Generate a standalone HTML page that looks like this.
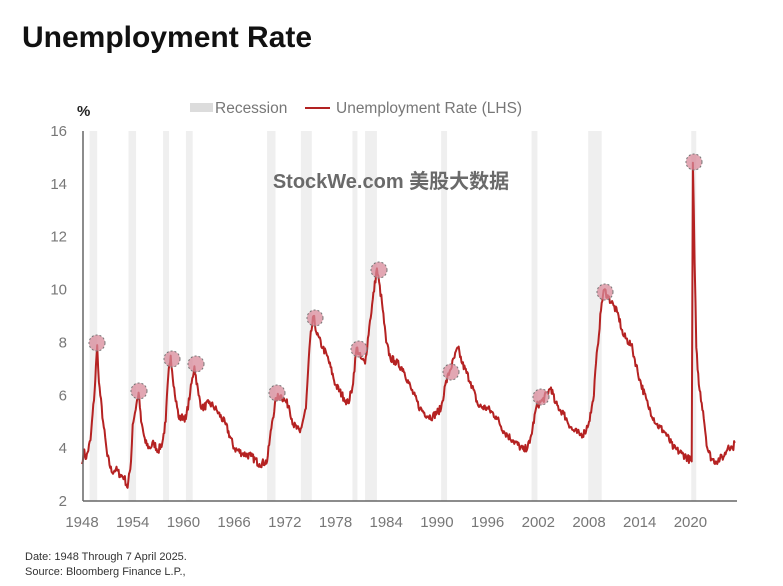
<!DOCTYPE html>
<html><head><meta charset="utf-8"><style>
html,body{margin:0;padding:0;background:#fff;width:783px;height:586px;overflow:hidden}
svg{display:block}
</style></head><body>
<svg id="s" width="783" height="586" xmlns="http://www.w3.org/2000/svg" font-family="Liberation Sans, sans-serif">
<text x="22" y="47" font-size="30" font-weight="bold" fill="#111">Unemployment Rate</text>
<g id="rec" fill="#efefef"></g>
<text x="77" y="116" font-size="15" font-weight="bold" fill="#222">%</text>
<rect x="190" y="103" width="23" height="9" fill="#dcdcdc"/>
<text x="215" y="113" font-size="15.5" fill="#777">Recession</text>
<line x1="305" y1="108" x2="330" y2="108" stroke="#b22222" stroke-width="2"/>
<text x="336" y="113" font-size="15.5" fill="#777">Unemployment Rate (LHS)</text>
<g id="yt" font-size="15" fill="#777" text-anchor="end"></g>
<g id="xt" font-size="15" fill="#777" text-anchor="middle"></g>
<path id="ln" fill="none" stroke="#b52222" stroke-width="2" stroke-linejoin="round"/>
<g id="mk" fill="#d88a9a" fill-opacity="0.75" stroke="#777" stroke-dasharray="2,2" stroke-width="1"></g>
<line x1="83" y1="131" x2="83" y2="501" stroke="#666" stroke-width="1.5"/>
<line x1="83" y1="501" x2="737" y2="501" stroke="#666" stroke-width="1.5"/>
<text x="391" y="188" font-size="20" font-weight="bold" fill="#6a6a6a" text-anchor="middle" font-family="Liberation Sans, Noto Sans CJK SC, sans-serif">StockWe.com 美股大数据</text>
<text x="25" y="560" font-size="11" fill="#333">Date: 1948 Through 7 April 2025.</text>
<text x="25" y="575" font-size="11" fill="#333">Source: Bloomberg Finance L.P.,</text>
</svg>
<script>
var X=function(t){return 82+(t-1948)*8.45},Y=function(v){return 501-(v-2)*26.43};
var ns="http://www.w3.org/2000/svg";
function el(p,n,a,t){var e=document.createElementNS(ns,n);for(var k in a)e.setAttribute(k,a[k]);if(t)e.textContent=t;document.getElementById(p).appendChild(e);}
[[1948.9,1949.8],[1953.5,1954.4],[1957.6,1958.3],[1960.3,1961.1],[1969.9,1970.9],[1973.9,1975.2],[1980,1980.5],[1981.5,1982.9],[1990.5,1991.2],[2001.2,2001.9],[2007.9,2009.5],[2020.1,2020.4]].forEach(function(r){el("rec","rect",{x:X(r[0]),y:131,width:Math.max(5,X(r[1])-X(r[0])),height:370});});
for(var v=2;v<=16;v+=2)el("yt","text",{x:67,y:Y(v)+5},""+v);
for(var y=1948;y<=2020;y+=6)el("xt","text",{x:X(y),y:527},""+y);
var d=[[1948,3.4],[1948.2,3.9],[1948.5,3.6],[1949,4.3],[1949.5,6.2],[1949.8,7.9],[1950,6.5],[1950.5,5.0],[1951,3.7],[1951.5,3.1],[1952,3.2],[1952.5,3.0],[1953,2.9],[1953.4,2.5],[1953.8,3.5],[1954,4.9],[1954.7,6.1],[1955,5.0],[1955.5,4.2],[1956,4.0],[1956.5,4.2],[1957,3.9],[1957.5,4.2],[1957.9,5.0],[1958.2,6.7],[1958.5,7.5],[1959,6.0],[1959.5,5.1],[1960,5.2],[1960.3,5.1],[1960.8,6.1],[1961.3,7.1],[1961.8,6.0],[1962.2,5.5],[1963,5.7],[1963.5,5.6],[1964,5.4],[1965,4.9],[1966,4.0],[1967,3.8],[1968,3.7],[1969,3.4],[1969.9,3.5],[1970.5,5.0],[1971,5.9],[1971.5,6.0],[1972,5.8],[1972.5,5.6],[1973,4.9],[1973.8,4.6],[1974.5,5.5],[1975,8.1],[1975.4,9.0],[1975.8,8.3],[1976.5,7.8],[1977,7.5],[1978,6.4],[1979,5.9],[1979.5,5.7],[1980,6.3],[1980.5,7.8],[1981,7.4],[1981.5,7.2],[1982,8.6],[1982.9,10.8],[1983.5,9.5],[1984,8.0],[1984.5,7.4],[1985,7.3],[1986,7.0],[1987,6.2],[1988,5.5],[1989,5.2],[1989.5,5.2],[1990.5,5.5],[1991,6.4],[1991.5,6.9],[1992.5,7.8],[1993,7.2],[1994,6.5],[1994.9,5.6],[1996,5.5],[1997,5.2],[1998,4.6],[1999,4.3],[2000.3,3.9],[2001,4.2],[2001.8,5.6],[2002.5,5.8],[2003.5,6.3],[2004,5.7],[2005,5.3],[2006,4.7],[2007,4.5],[2007.5,4.6],[2008,5.0],[2008.5,5.8],[2009,7.8],[2009.5,9.5],[2009.8,10.0],[2010.3,9.7],[2010.9,9.4],[2011.5,9.0],[2012,8.3],[2013,7.9],[2014,6.6],[2015,5.6],[2016,4.9],[2017,4.6],[2018,4.0],[2019,3.8],[2020.15,3.5],[2020.3,14.8],[2020.5,11.0],[2020.7,7.8],[2021,6.4],[2021.5,5.4],[2022,4.0],[2022.5,3.6],[2023,3.5],[2023.5,3.6],[2024,3.7],[2024.5,4.1],[2025,4.0],[2025.25,4.2]];
var p="",seed=7;function rnd(){seed=(seed*16807)%2147483647;return seed/2147483647-0.5;}
for(var i=0;i<d.length-1;i++){var a=d[i],b=d[i+1];var n=Math.max(1,Math.round((b[0]-a[0])*12));for(var k=0;k<n;k++){var t=a[0]+(b[0]-a[0])*k/n,v=a[1]+(b[1]-a[1])*k/n;if(k>0&&b[1]-a[1]<5)v+=rnd()*0.3;p+=(p?"L":"M")+X(t).toFixed(1)+","+Y(v).toFixed(1);}}
var L=d[d.length-1];p+="L"+X(L[0]).toFixed(1)+","+Y(L[1]).toFixed(1);
document.getElementById("ln").setAttribute("d",p);
[[97,343],[139,391],[172,359],[196,364],[277,393],[315,318],[359,349],[379,270],[451,372],[541,397],[605,292],[694,162]].forEach(function(c){el("mk","circle",{cx:c[0],cy:c[1],r:8});});
</script>
</body></html>
